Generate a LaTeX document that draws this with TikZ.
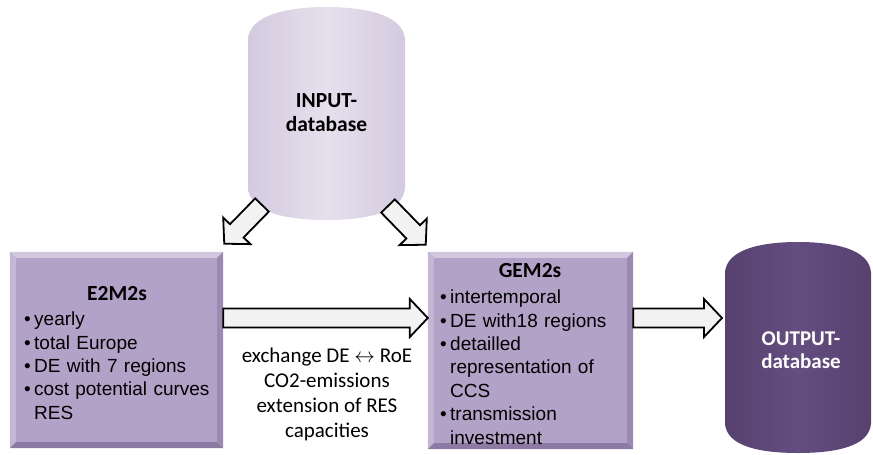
\documentclass[tikz,border=0pt]{standalone}
\usepackage{fontspec}
\setmainfont{Liberation Sans}
\newfontfamily\calfont{Carlito}
\usetikzlibrary{calc}
\definecolor{boxfill}{HTML}{B3A2C7}
\definecolor{bevtopc}{HTML}{D2C7DE}
\definecolor{bevleftc}{HTML}{C4B6D4}
\definecolor{bevrightc}{HTML}{9C89B2}
\definecolor{bevbotc}{HTML}{8D7AA4}
\definecolor{infill}{HTML}{E6E0ED}
\definecolor{inedge}{HTML}{D3CADF}
\definecolor{outfill}{HTML}{644D80}
\definecolor{outedge}{HTML}{56416F}
\definecolor{arrowfill}{HTML}{F2F2F2}
\newcommand\itm{\par\hangindent=10pt\hangafter=1\noindent\makebox[10pt][l]{•}}
\newcommand\blockarrow[2]{%
  \path let \p1=(#1), \p2=(#2), \n1={atan2(\y2-\y1,\x2-\x1)}, \n2={veclen(\x2-\x1,\y2-\y1)} in
    \pgfextra{\xdef\baang{\n1}\xdef\balen{\n2}\xdef\bax{\x1}\xdef\bay{\y1}};
  \begin{scope}[shift={(\bax,\bay)}, rotate=\baang]
    \draw[blockarrowstyle] (0,-9.5) -- ({\balen-18},-9.5) -- ({\balen-18},-19) -- (\balen,0)
      -- ({\balen-18},19) -- ({\balen-18},9.5) -- (0,9.5) -- cycle;
  \end{scope}}
\newcommand\bevelbox[1]{%
  \fill[bevtopc] (#1.north west) -- (#1.north east) -- ($(#1.north east)+(-6,6)$) -- ($(#1.north west)+(6,6)$) -- cycle;
  \fill[bevleftc] (#1.north west) -- ($(#1.north west)+(6,6)$) -- ($(#1.south west)+(6,-6)$) -- (#1.south west) -- cycle;
  \fill[bevrightc] (#1.north east) -- ($(#1.north east)+(-6,6)$) -- ($(#1.south east)+(-6,-6)$) -- (#1.south east) -- cycle;
  \fill[bevbotc] (#1.south west) -- ($(#1.south west)+(6,-6)$) -- ($(#1.south east)+(-6,-6)$) -- (#1.south east) -- cycle;}
\begin{document}
\begin{tikzpicture}[x=1pt,y=-1pt,
  blockarrowstyle/.style={draw=black, line width=1.8pt, fill=arrowfill, line join=miter},
  modbox/.style={fill=boxfill, inner sep=0pt},
  titletext/.style={font=\calfont\bfseries\fontsize{21.5}{24}\selectfont, anchor=base},
  listtext/.style={font=\fontsize{19}{23.4}\selectfont, text width=200pt, align=left, inner sep=0pt, anchor=north west},
  cyltext/.style={font=\calfont\bfseries\fontsize{21.5}{24}\selectfont, align=center, inner sep=0pt, anchor=north},
]
\useasboundingbox (0,0) rectangle (873,455);

% INPUT cylinder
\path[shade, left color=inedge, right color=inedge, middle color=infill]
  (248,40) .. controls (249,14) and (290,7) .. (326.5,7) .. controls (363,7) and (404,14) .. (405,40)
  -- (405,187) .. controls (404,214) and (363,220) .. (326.5,220) .. controls (290,220) and (249,214) .. (248,187) -- cycle;
\node[cyltext] (input) at (326.5,93) {INPUT-\\database};

% OUTPUT cylinder
\path[shade, left color=outedge, right color=outedge, middle color=outfill]
  (725,273) .. controls (726,249) and (762,242) .. (798,242) .. controls (834,242) and (870,249) .. (871,273)
  -- (871,423) .. controls (870,447) and (834,453) .. (798,453) .. controls (762,453) and (726,447) .. (725,423) -- cycle;
\node[cyltext, text=white, font=\calfont\bfseries\fontsize{21}{23}\selectfont] (output) at (801,331.5) {OUTPUT-\\database};
\coordinate (outL) at (725,318);

% model boxes
\node[modbox, minimum width=213pt, minimum height=196pt] (e2m2s) at (116.5,350) {};
\bevelbox{e2m2s}
\node[modbox, minimum width=205pt, minimum height=197pt] (gem2s) at (530.5,350.5) {};
\bevelbox{gem2s}

\node[titletext] (e2title) at (117,300) {E2M2s};
\node[listtext] (e2list) at (24,302) {\itm yearly\itm total Europe\itm DE with 7 regions\itm cost potential curves\newline RES\par};

\node[titletext] (gemtitle) at (530,277) {GEM2s};
\node[listtext, text width=185pt] (gemlist) at (440,280) {\itm intertemporal\itm DE with18 regions\itm detailled\newline representation of\newline CCS\itm transmission\newline investment\par};

% exchange text
\node[font=\calfont\fontsize{21}{25}\selectfont, align=center, inner sep=0pt, anchor=north] (xtext) at (327,347.5)
  {exchange DE $\leftrightarrow$ RoE\\CO2-emissions\\extension of RES\\capacities};

% arrows
\coordinate (inL) at (262,205);
\coordinate (inR) at (388,206);
\blockarrow{inL}{$(e2m2s.north east)+(1,-8)$}
\blockarrow{inR}{$(gem2s.north west)+(-2,-7)$}
\blockarrow{e2m2s.east |- 0,318}{gem2s.west |- 0,318}
\blockarrow{gem2s.east |- 0,318}{$(outL)+(-3,0)$}
\end{tikzpicture}
\end{document}
